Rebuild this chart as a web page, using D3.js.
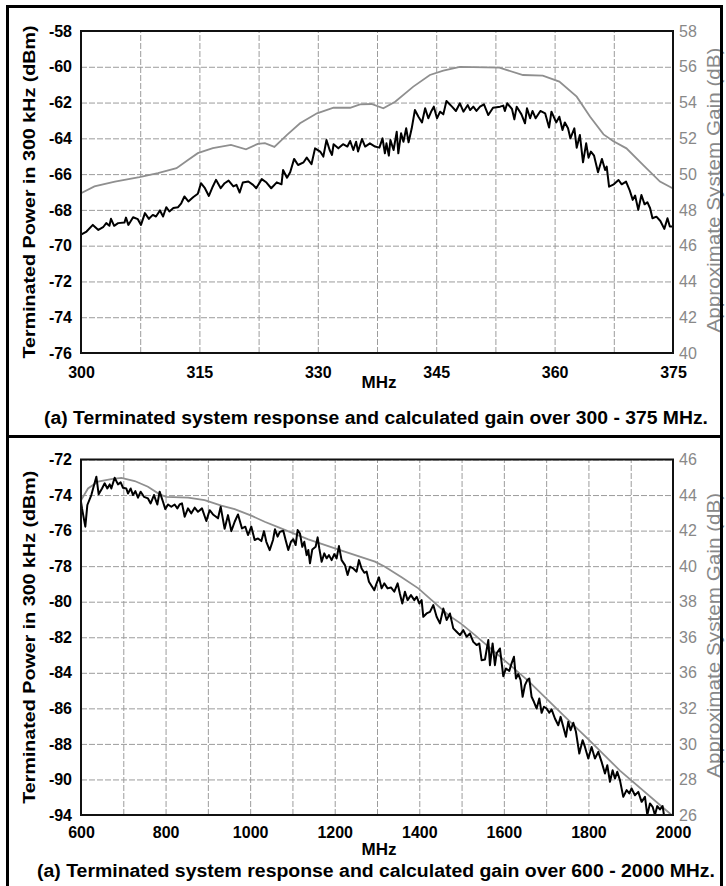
<!DOCTYPE html>
<html>
<head>
<meta charset="utf-8">
<script src="https://cdn.jsdelivr.net/npm/d3@7"></script>
<style>
body{margin:0;background:#fff;}
svg{display:block;font-family:"Liberation Sans Narrow","Arial Narrow","Liberation Sans",Arial,sans-serif;}
.grid line{stroke:#9c9c9c;stroke-dasharray:6,2;}
</style>
</head>
<body>
<svg id="chart" width="726" height="886"></svg>
<script>
//// data: [MHz, value]
var topPower = [[300.0,-69.39],[300.7,-69.21],[301.5,-68.84],[302.2,-69.12],[302.8,-68.97],[303.2,-68.74],[303.6,-68.89],[303.8,-68.5],[304.2,-68.89],[304.7,-68.74],[305.5,-68.71],[305.7,-68.43],[306.0,-68.84],[306.6,-68.41],[307.2,-68.52],[307.6,-68.84],[308.1,-68.18],[308.6,-68.5],[309.1,-68.28],[309.5,-68.37],[310.0,-68.03],[310.4,-68.37],[310.8,-67.85],[311.2,-68.09],[311.7,-67.9],[312.3,-67.85],[312.7,-67.63],[313.1,-67.25],[313.6,-67.53],[314.2,-67.29],[314.8,-67.1],[315.2,-66.51],[315.7,-66.79],[316.2,-67.22],[316.7,-66.69],[317.1,-66.32],[317.7,-66.79],[318.2,-66.51],[318.7,-66.36],[319.3,-66.69],[319.7,-66.6],[320.1,-67.03],[320.5,-66.47],[321.2,-66.41],[321.8,-66.6],[322.2,-66.79],[322.9,-66.28],[323.5,-66.47],[324.1,-66.79],[324.8,-66.46],[325.4,-66.57],[325.6,-65.77],[326.1,-66.2],[326.5,-65.9],[327.0,-65.15],[327.5,-65.49],[328.2,-65.34],[328.6,-65.08],[329.2,-65.45],[329.65,-64.56],[330.3,-64.74],[330.7,-65.02],[331.1,-64.09],[331.5,-64.65],[331.8,-64.93],[332.0,-64.33],[332.6,-64.56],[333.2,-64.33],[333.75,-64.46],[334.1,-64.15],[334.5,-64.65],[334.85,-64.19],[335.1,-64.74],[335.6,-64.04],[336.0,-64.46],[336.6,-64.28],[337.25,-64.46],[337.8,-64.52],[338.2,-64.0],[338.5,-64.84],[338.7,-64.28],[339.0,-64.97],[339.2,-64.09],[339.6,-64.65],[340.0,-63.63],[340.2,-64.84],[340.55,-63.72],[340.85,-64.19],[341.2,-63.44],[341.5,-64.22],[341.9,-63.44],[342.3,-62.42],[342.75,-62.79],[343.2,-63.11],[343.6,-62.32],[344.0,-62.88],[344.4,-62.47],[344.7,-62.23],[345.1,-62.88],[345.5,-62.51],[345.9,-62.66],[346.3,-61.91],[347.0,-62.23],[347.5,-62.47],[348.0,-62.04],[348.45,-62.51],[349.0,-62.14],[349.3,-62.42],[349.7,-62.23],[350.1,-62.47],[350.55,-62.23],[351.05,-62.1],[351.6,-62.7],[352.2,-62.29],[353.1,-62.23],[353.5,-62.17],[353.7,-62.47],[354.0,-62.04],[354.6,-62.36],[354.9,-62.94],[355.2,-62.23],[355.8,-62.66],[356.25,-63.16],[356.5,-62.32],[356.9,-62.88],[357.2,-62.47],[357.6,-62.88],[358.2,-62.47],[358.8,-62.6],[359.3,-63.4],[359.6,-62.51],[360.2,-63.11],[360.6,-62.79],[361.0,-63.53],[361.3,-63.11],[361.7,-63.44],[362.0,-64.0],[362.5,-63.44],[362.8,-64.52],[363.2,-63.81],[363.6,-65.34],[364.0,-64.28],[364.3,-65.08],[364.6,-64.74],[365.0,-64.97],[365.5,-65.9],[366.0,-65.15],[366.4,-65.77],[366.6,-65.58],[366.9,-66.7],[367.5,-66.57],[368.1,-66.33],[368.5,-66.57],[369.05,-66.42],[369.5,-66.89],[369.9,-67.44],[370.2,-67.2],[370.6,-68.0],[371.0,-67.17],[371.4,-67.69],[371.75,-67.57],[372.1,-67.91],[372.4,-68.47],[372.9,-68.38],[373.4,-68.62],[373.9,-69.06],[374.3,-68.47],[374.6,-68.93],[375.0,-68.93]];

var topGain = [[300,48.93],[301.7,49.31],[304.3,49.58],[307.4,49.83],[309.75,50.05],[312.1,50.33],[313.6,50.8],[314.8,51.17],[316.7,51.45],[319.0,51.63],[320.9,51.39],[322.4,51.69],[323.3,51.73],[324.5,51.52],[326.1,52.19],[327.75,52.84],[329.9,53.4],[332.0,53.71],[334.1,53.71],[335.35,53.9],[336.8,53.92],[338.3,53.68],[339.8,54.05],[342.1,54.89],[344.2,55.54],[345.9,55.78],[348.0,56.0],[353.0,55.95],[356.0,55.54],[358.5,55.5],[360.6,55.17],[362.8,54.33],[364.5,53.21],[366.2,52.22],[367.4,51.85],[369.1,51.44],[371.2,50.51],[373.35,49.58],[375,49.2]];

var botPower = [[600,-74.38],[602.4,-74.75],[610.2,-75.78],[615.0,-74.56],[624.4,-74.0],[636.3,-72.97],[641.8,-73.96],[649.7,-73.63],[656.0,-73.34],[662.3,-73.63],[667.8,-73.4],[671.7,-73.63],[679.6,-73.03],[687.5,-73.4],[693.8,-73.29],[699.3,-73.59],[707.2,-73.63],[711.1,-73.91],[717.5,-73.63],[723.0,-74.0],[728.5,-73.78],[734.8,-74.15],[741.1,-73.81],[749.0,-74.1],[758.4,-74.19],[764.7,-74.47],[772.6,-74.0],[780.5,-74.53],[786.0,-73.81],[793.9,-74.38],[799.4,-74.79],[805.7,-74.53],[813.6,-74.66],[821.5,-74.53],[827.8,-74.75],[833.3,-74.53],[838.8,-74.47],[845.2,-75.22],[853.0,-74.75],[860.9,-75.03],[868.8,-74.71],[876.7,-74.94],[886.1,-74.75],[896.4,-75.46],[904.3,-74.85],[912.2,-75.09],[924.0,-75.31],[930.3,-74.66],[939.7,-75.9],[947.6,-75.13],[955.5,-76.03],[963.4,-75.5],[971.3,-75.09],[980.7,-75.88],[988.6,-75.78],[994.9,-76.25],[1002.8,-75.78],[1010.7,-76.53],[1018.6,-76.44],[1026.5,-76.59],[1032.8,-76.03],[1038.3,-76.63],[1046.2,-77.1],[1054.1,-76.53],[1058.7,-75.93],[1065,-76.34],[1070.5,-76.06],[1078.4,-76.01],[1083.9,-76.53],[1090.2,-77.09],[1096.5,-76.63],[1102.1,-76.49],[1107.6,-76.81],[1112.3,-75.97],[1117.8,-76.16],[1123.3,-76.91],[1128.1,-76.63],[1133.6,-77.38],[1137.5,-77.09],[1141.5,-77.84],[1147,-77.06],[1154.9,-76.91],[1159.6,-76.38],[1163.5,-77.0],[1169.1,-77.75],[1175.4,-77.28],[1180.9,-77.56],[1186.4,-77.38],[1192.7,-77.66],[1199.0,-77.32],[1204.5,-77.56],[1210.0,-76.87],[1216.3,-77.66],[1224.2,-77.94],[1230.5,-78.5],[1236.1,-78.03],[1243.9,-78.13],[1251.8,-78.31],[1257.3,-77.66],[1263.6,-78.13],[1270.0,-78.37],[1275.5,-78.31],[1281.0,-78.88],[1287.3,-79.12],[1293.6,-79.35],[1299.1,-78.97],[1304.6,-78.63],[1310.9,-79.25],[1317.2,-78.97],[1325.1,-79.25],[1333.0,-79.2],[1340.9,-79.44],[1348.8,-78.97],[1354.3,-79.57],[1359.8,-80.1],[1366.1,-79.44],[1372.4,-79.91],[1380.3,-79.63],[1388.2,-79.91],[1393.7,-79.72],[1400.0,-80.1],[1405.5,-79.91],[1409.5,-80.85],[1417.3,-80.66],[1425.2,-80.57],[1433.1,-80.19],[1441.0,-80.85],[1448.9,-81.22],[1456.8,-80.38],[1464.7,-81.03],[1472.5,-80.66],[1480.4,-81.5],[1488.3,-81.69],[1496.2,-81.88],[1504.1,-81.6],[1512.0,-81.97],[1519.8,-81.79],[1527.7,-82.26],[1535.6,-82.44],[1541.9,-82.35],[1547.4,-83.29],[1555.3,-83.25],[1563.2,-82.16],[1567.1,-83.57],[1573.4,-82.35],[1578.9,-83.57],[1582.9,-82.91],[1590.7,-82.63],[1598.6,-84.19],[1604.9,-83.76],[1612.8,-83.89],[1618.3,-83.47],[1623.9,-83.1],[1628.6,-84.32],[1634.1,-84.07],[1639.6,-84.41],[1644.4,-85.35],[1649.9,-84.69],[1655.4,-84.41],[1660.1,-84.32],[1665.6,-85.35],[1671.1,-85.63],[1677.5,-86.01],[1683.8,-85.44],[1689.3,-86.25],[1694.8,-85.91],[1701.1,-86.01],[1707.4,-86.25],[1712.9,-86.06],[1720.8,-86.57],[1728.7,-86.95],[1734.2,-86.48],[1740.5,-87.04],[1746.8,-87.6],[1752.3,-86.76],[1757.9,-87.23],[1764.2,-86.81],[1770.5,-87.32],[1778.4,-88.54],[1786.2,-87.79],[1791.8,-88.17],[1799.6,-88.82],[1807.5,-88.17],[1815.4,-88.82],[1823.3,-88.45],[1831.2,-89.01],[1839.1,-89.67],[1844.6,-89.2],[1850.9,-90.13],[1857.2,-89.48],[1862.7,-89.95],[1868.2,-89.57],[1874.5,-90.04],[1882.4,-90.98],[1890.3,-90.6],[1896.6,-90.79],[1902.1,-90.51],[1910.0,-90.89],[1917.9,-90.7],[1925.8,-91.26],[1933.7,-90.98],[1939.2,-92.0],[1945.5,-91.35],[1951.8,-91.54],[1957.3,-92.0],[1962.8,-91.5],[1969.1,-91.69],[1975.4,-91.5],[1978.6,-92.0]];

var botGain = [[600,43.7],[616.6,44.37],[640.2,44.75],[671.7,44.9],[695.4,44.97],[727,44.79],[758.4,44.47],[786,44.04],[801.8,43.9],[853,43.85],[892.4,43.72],[931.9,43.4],[963.4,43.21],[1002.8,42.84],[1034.3,42.5],[1065.9,42.2],[1137.5,41.51],[1216.3,40.87],[1295.2,40.25],[1318.8,39.97],[1358.2,39.37],[1397.7,38.75],[1429.2,38.09],[1468.6,37.25],[1500.1,36.74],[1531.7,36.12],[1657.7,33.55],[1756.3,31.25],[1800,30.25],[1874.5,28.5],[1996.7,26.0]];

//// tick labels (as printed on the original)
var topXLabels = [300, 315, 330, 345, 360, 375];
var topYLabels = ["-58","-60","-62","-64","-66","-68","-70","-72","-74","-76"];
var topGainLabels = ["58","56","54","52","50","48","46","44","42","40"];
var botXLabels = [600, 800, 1000, 1200, 1400, 1600, 1800, 2000];
var botYLabels = ["-72","-74","-76","-78","-80","-82","-84","-86","-88","-90","-94"];
var botGainLabels = ["46","44","42","40","38","36","36","32","30","28","26"];

var yTitle = "Terminated Power in 300 kHz (dBm)";
var gainTitle = "Approximate System Gain (dB)";
var topCaption = "(a) Terminated system response and calculated gain over 300 - 375 MHz.";
var botCaption = "(a) Terminated system response and calculated gain over 600 - 2000 MHz.";

var svg = d3.select("#chart");
svg.append("rect").attr("width",726).attr("height",886).attr("fill","#fff");

function drawPanel(p, idx){
	var x = d3.scaleLinear().domain(p.xDomain).range([p.left, p.right]);
	var y = d3.scaleLinear().domain(p.yDomain).range([p.bottom, p.top]);
	var yG = d3.scaleLinear().domain(p.gDomain).range([p.bottom, p.top]);
	var h = p.bottom - p.top, w = p.right - p.left;
	var g = svg.append("g");

	//grid
	g.append("g").attr("class","grid")
		.attr("transform","translate(0,"+p.bottom+")")
		.call(d3.axisBottom(x).tickValues(d3.range(p.xDomain[0], p.xDomain[1]+0.001, p.xGridStep)).tickSize(-h).tickFormat(""))
		.call(function(s){ s.select(".domain").remove(); });
	g.append("g").attr("class","grid")
		.attr("transform","translate("+p.left+",0)")
		.call(d3.axisLeft(y).tickValues(d3.range(p.yDomain[1], p.yDomain[0]-0.001, -2)).tickSize(-w).tickFormat(""))
		.call(function(s){ s.select(".domain").remove(); });

	//traces
	var clipId = "clip"+idx;
	g.append("clipPath").attr("id",clipId).append("rect")
		.attr("x",p.left).attr("y",p.top).attr("width",w).attr("height",h);
	g.append("path").datum(p.gain)
		.attr("clip-path","url(#"+clipId+")")
		.attr("fill","none").attr("stroke","#8f8f8f").attr("stroke-width",1.8)
		.attr("d", d3.line().x(function(d){return x(d[0]);}).y(function(d){return yG(d[1]);}));
	g.append("path").datum(p.power)
		.attr("clip-path","url(#"+clipId+")")
		.attr("fill","none").attr("stroke","#000").attr("stroke-width",2).attr("stroke-linejoin","round")
		.attr("d", d3.line().x(function(d){return x(d[0]);}).y(function(d){return y(d[1]);}));

	//frame
	g.append("rect").attr("x",p.left).attr("y",p.top).attr("width",w).attr("height",h)
		.attr("fill","none").attr("stroke","#111").attr("stroke-width",2);

	//left labels
	var yVals = d3.range(p.yDomain[1], p.yDomain[0]-0.001, -2);
	var la = g.append("g").attr("transform","translate("+p.left+",0)")
		.call(d3.axisLeft(y).tickValues(yVals).tickSize(0).tickPadding(9)
			.tickFormat(function(d,i){ return p.yLabels[i]; }));
	la.select(".domain").remove();
	la.selectAll("text").attr("font-family",null).attr("font-size",16).attr("font-weight","bold").attr("fill","#000");

	//right labels
	var gVals = d3.range(p.gDomain[1], p.gDomain[0]-0.001, -2);
	var ra = g.append("g").attr("transform","translate("+p.right+",0)")
		.call(d3.axisRight(yG).tickValues(gVals).tickSize(0).tickPadding(6)
			.tickFormat(function(d,i){ return p.gLabels[i]; }));
	ra.select(".domain").remove();
	ra.selectAll("text").attr("font-family",null).attr("font-size",16).attr("fill","#888");

	//x labels
	var xa = g.append("g").attr("transform","translate(0,"+p.bottom+")")
		.call(d3.axisBottom(x).tickValues(p.xLabels).tickSize(0).tickPadding(p.xPad).tickFormat(d3.format("d")));
	xa.select(".domain").remove();
	xa.selectAll("text").attr("font-family",null).attr("font-size",16).attr("font-weight","bold").attr("fill","#000");

	//titles
	g.append("text").attr("x",379).attr("y",p.mhzY).attr("text-anchor","middle")
		.attr("font-size",17).attr("font-weight","bold").text("MHz");
	g.append("text")
		.attr("transform","translate(35,"+((p.top+p.bottom)/2)+") rotate(-90)")
		.attr("text-anchor","middle").attr("font-size",17).attr("font-weight","bold")
		.attr("textLength",333).attr("lengthAdjust","spacingAndGlyphs")
		.text(yTitle);
	g.append("text")
		.attr("transform","translate(720,"+((p.top+p.bottom)/2 - 2)+") rotate(-90)")
		.attr("text-anchor","middle").attr("font-size",18).attr("fill","#888")
		.attr("textLength",285).attr("lengthAdjust","spacingAndGlyphs")
		.text(gainTitle);
	g.append("text").attr("x",p.capX).attr("y",p.capY)
		.attr("font-size",18).attr("font-weight","bold")
		.attr("textLength",p.capW).attr("lengthAdjust","spacingAndGlyphs")
		.text(p.caption);
}

drawPanel({
	left:81, right:673, top:31, bottom:353,
	xDomain:[300,375], xGridStep:7.5, yDomain:[-76,-58], gDomain:[40,58],
	power:topPower, gain:topGain,
	xLabels:topXLabels, yLabels:topYLabels, gLabels:topGainLabels,
	xPad:14, mhzY:388, caption:topCaption, capX:44, capY:424, capW:664
}, 0);

drawPanel({
	left:81, right:673, top:459.5, bottom:815,
	xDomain:[600,2000], xGridStep:100, yDomain:[-92,-72], gDomain:[26,46],
	power:botPower, gain:botGain,
	xLabels:botXLabels, yLabels:botYLabels, gLabels:botGainLabels,
	xPad:12, mhzY:855, caption:botCaption, capX:37, capY:877, capW:678
}, 1);

//outer border and panel separator
svg.append("rect").attr("x",7.5).attr("y",6.5).attr("width",714).attr("height",890)
	.attr("fill","none").attr("stroke","#000").attr("stroke-width",3);
svg.append("line").attr("x1",7).attr("x2",722).attr("y1",436.5).attr("y2",436.5)
	.attr("stroke","#000").attr("stroke-width",3);
</script>
</body>
</html>
